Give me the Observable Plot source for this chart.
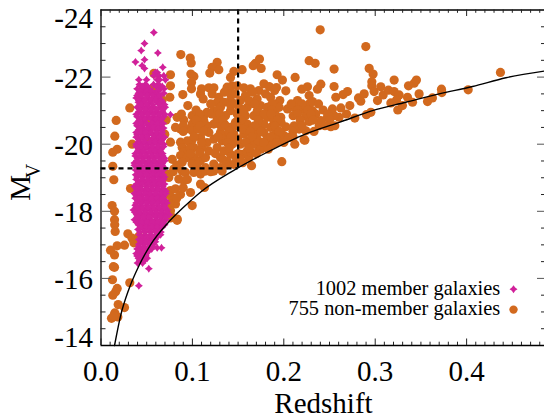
<!DOCTYPE html>
<html><head><meta charset="utf-8">
<style>html,body{margin:0;padding:0;background:#fff}svg{display:block}</style>
<script src="https://cdn.jsdelivr.net/npm/d3@7"></script>
<script src="https://cdn.jsdelivr.net/npm/@observablehq/plot@0.6"></script>
</head><body><div id="chart"></div>
<script>
const xMajor=[0,.1,.2,.3,.4];
const xMinor=[.01,.02,.03,.04,.05,.06,.07,.08,.09,.11,.12,.13,.14,.15,.16,.17,.18,.19,.21,.22,.23,.24,.25,.26,.27,.28,.29,.31,.32,.33,.34,.35,.36,.37,.38,.39,.41,.42,.43,.44,.45,.46,.47,.48];
const yLabels=[-22,-20,-18,-16];
const yMajor=[-22,-20,-18,-16];
const yMinor=[-23.5,-23,-22.5,-21.5,-21,-20.5,-19.5,-19,-18.5,-17.5,-17,-16.5,-15.5,-15,-14.5];
const limitZ=[.0148,.0213,.0304,.0414,.0542,.0724,.0888,.1088,.1453,.1818,.2241,.2606,.297,.3335,.37,.4065,.443,.485];
const limitM=[-14,-14.87,-15.67,-16.37,-17,-17.63,-18.08,-18.57,-19.22,-19.76,-20.31,-20.65,-21,-21.25,-21.5,-21.72,-21.98,-22.18];
const nonMembers=[
[.0166,-20.71],[.0151,-20.24],[.0177,-19.85],[.0129,-19.76],[.0341,-20],[.0315,-21.08],[.0129,-19.34],[.014,-18.94],[.0323,-18.68],[.0396,-18.58],[.0122,-18.17],[.0148,-18],[.0148,-17.75],[.015,-17.6],[.0155,-17.4],[.0294,-17.33],[.034,-17.2],[.0377,-17.16],[.036,-17.06],[.0414,-17.25],[.0257,-16.99],[.0177,-16.97],[.0104,-16.84],[.0148,-16.7],[.0148,-16.33],[.0135,-16.35],[.0126,-15.96],[.0315,-15.87],[.0177,-15.7],[.016,-15.6],[.0129,-15.5],[.0188,-15.22],[.0257,-15.13],[.0151,-14.97],[.0184,-14.85],[.0115,-14.81],[.014,-14.89],
[.0578,-22.11],[.076,-22.07],[.076,-21.74],[.056,-21.65],[.0669,-21.32],[.0753,-21.4],[.0713,-20.72],[.0698,-20.3],[.076,-20.06],[.054,-20.7],[.051,-20.1],[.0607,-17.5],[.0476,-16.68],
[.0873,-22.67],[.0976,-22.57],[.0987,-22.42],[.0983,-22.09],[.1016,-22.02],[.099,-21.84],[.099,-21.65],[.0895,-21.48],[.095,-21.15],[.1271,-22.44],[.1216,-22.29],[.1289,-22.22],[.119,-22.12],[.1453,-22.17],[.1544,-22.22],[.1417,-21.99],[.169,-22.41],[.1665,-22.34],[.1734,-22.54],[.1752,-22.26],
[.11,-21.65],[.118,-21.68],[.1235,-21.68],[.1089,-21.5],[.1118,-21.35],[.1216,-21.5],[.1289,-21.4],[.1271,-21.25],[.138,-21.7],[.1435,-21.74],[.149,-21.74],[.1563,-21.68],[.1417,-21.5],[.1635,-21.65],[.1727,-21.6],[.1782,-21.8],[.184,-21.72],[.18,-21.5],[.1708,-21.35],[.1855,-21.4],[.1417,-21.3],[.1526,-21.3],[.16,-21.1],[.1745,-21.15],[.1818,-21.1],[.135,-21.55],[.147,-21.5],[.158,-21.45],[.166,-21.55],[.135,-21.25],[.162,-21.3],[.19,-21.6],
[.0833,-20.8],[.0906,-20.72],[.0997,-20.85],[.0997,-20.6],[.087,-20.45],[.0815,-20.5],[.0924,-20.45],[.0997,-20.4],[.1125,-20.85],[.116,-20.95],[.1234,-21],[.1307,-21.1],[.1089,-20.2],[.0997,-20.12],[.087,-20.06],[.0888,-19.9],[.0906,-19.76],[.087,-19.66],[.0943,-19.6],[.1016,-19.9],[.1016,-19.6],[.0888,-19.46],[.0997,-19.41],[.1089,-19.51],[.1143,-19.6],[.118,-19.8],[.1161,-20.05],[.1234,-20.15],[.1107,-19.9],[.1234,-19.41],[.1307,-19.6],[.1271,-19.9],[.1325,-20.1],[.138,-20.3],[.1307,-20.35],[.1417,-20.5],[.1234,-20.6],[.1161,-20.55],[.1125,-20.7],[.118,-20.35],[.1271,-20.75],[.1362,-20.85],[.1417,-21],[.149,-20.9],[.1526,-20.6],[.1453,-20.3],[.1563,-20.3],[.16,-20.6],[.1672,-20.85],[.1654,-20.5],[.1745,-20.6],[.1818,-20.8],[.1855,-20.5],[.1708,-20.3],[.1818,-20.2],[.1617,-20.1],[.1526,-20],[.1435,-20],[.1417,-19.7],[.1344,-19.8],[.1453,-19.4],[.138,-19.5],[.1307,-19.3],[.1143,-19.3],[.1052,-19.26],[.0888,-19.2],[.0797,-19.26],[.0724,-19.1],[.0687,-19],[.1544,-19.7],[.1617,-19.6],[.1727,-19.9],[.1818,-20],[.1672,-20],[.16,-19.8],[.1781,-20.35],
[.135,-20.6],[.147,-20.65],[.133,-20.15],[.1495,-20.15],[.175,-20.85],[.158,-20.85],[.171,-21.0],[.151,-21.1],[.142,-21.15],[.189,-20.7],[.155,-19.45],[.1475,-19.62],[.1645,-19.75],[.172,-20.1],[.188,-20.25],[.178,-20.6],[.171,-20.55],[.16,-20.4],[.183,-20.95],[.105,-20.75],[.106,-20.45],[.108,-19.75],[.0945,-20.1],[.121,-20.9],[.131,-20.55],[.155,-20.45],
[.0687,-19.11],[.0742,-19.01],[.0851,-18.96],[.0906,-18.91],[.0924,-19.16],[.1015,-19.16],[.1089,-19.11],[.1143,-19.2],[.1234,-19.2],[.1325,-19.2],[.1089,-18.81],[.1132,-18.71],[.076,-18.62],[.0815,-18.67],[.087,-18.5],[.0779,-18.41],[.0979,-18.56],[.0815,-18.22],[.0742,-18.22],[.0998,-18.17],[.0779,-17.82],[.0706,-18.17],[.076,-18.02],[.0834,-17.77],[.0833,-17.73],[.076,-17.8],[.0945,-18.95],[.083,-18.4],[.072,-18.5],
[.2398,-23.41],[.2897,-22.91],[.2277,-22.49],[.2343,-22.41],[.255,-22.24],[.2934,-22.26],[.2977,-22.09],[.1927,-22.07],[.1985,-21.91],[.2124,-21.99],[.192,-21.69],[.2022,-21.59],[.2197,-21.64],[.2259,-21.71],[.2405,-21.79],[.2368,-21.64],[.2277,-21.45],[.255,-21.72],[.2569,-21.4],[.2697,-21.57],[.2649,-21.48],[.2817,-21.38],[.2842,-21.28],[.2879,-21.5],[.2963,-21.86],[.2963,-21.74],[.2988,-21.57],[.3061,-21.71],[.3025,-21.3],[.3087,-21.47],[.3145,-21.61],[.3207,-21.91],[.3207,-21.57],[.3262,-21.47],[.3233,-21.32],[.3171,-21.23],[.3247,-21.02],[.3298,-21.15],[.3353,-21.4],[.3364,-21.74],[.3426,-21.82],[.3451,-21.91],[.348,-21.5],[.3408,-21.25],[.3572,-21.27],[.3626,-21.38],[.3725,-21.64],[.3729,-21.54],[.4017,-21.62],[.437,-22.14],[.2722,-21.15],[.2686,-20.9],[.2624,-21.08],[.2777,-20.78],[.2904,-20.88],[.2952,-20.95],[.2277,-21.2],[.2314,-21.27],[.215,-21.3],[.1956,-21.3],[.1894,-21.2],
[.204,-21.05],[.2113,-21.1],[.2204,-21.05],[.2314,-21],[.2102,-20.85],[.2241,-20.85],[.235,-20.9],[.2532,-21.05],[.2478,-20.8],[.2605,-20.8],[.2551,-20.85],[.2405,-20.7],[.2277,-20.68],[.2514,-20.52],[.2558,-20.55],[.2387,-20.55],[.2113,-20.55],[.2168,-20.45],[.2241,-20.4],[.2022,-20.52],[.2058,-20.2],[.212,-20],[.2222,-20.13],[.1978,-19.48],[.1876,-20],[.1931,-20.2],[.1912,-20.45],[.1967,-20.8],[.1905,-20.9],[.1949,-21.1],[.2004,-20.25],[.1647,-19.36],[.223,-20.12],[.2051,-20.2],[.175,-19.85],[.178,-20.05],[.197,-20.65],[.183,-19.85],[.2,-20.05],[.197,-20.35]
];
const nonMemberRows=[
[-21.2,[.12,.147,.168,.187,.208,.22,.238]],
[-21.02,[.104,.128,.156,.187,.215,.226,.243]],
[-20.9,[.088,.108,.13,.155,.178,.186,.215,.23,.248]],
[-20.72,[.104,.133,.153,.172,.193,.218,.232,.25]],
[-20.55,[.09,.108,.136,.148,.168,.19,.22,.245]],
[-20.38,[.09,.112,.14,.163,.175,.195,.21,.233]],
[-20.22,[.102,.128,.142,.165,.186,.21]],
[-20.05,[.11,.138,.158,.178,.192]],
[-19.88,[.097,.14,.162]],
[-19.72,[.098,.125,.15,.17]],
[-19.55,[.078,.133,.152]],
[-19.38,[.083,.105,.137]],
[-19.18,[.079,.12]],
[-18.7,[.09]]
];
const memberRows=[
[-23.33,[.0578]],[-23,[.0476]],[-22.79,[.044]],[-22.72,[.0622]],[-22.52,[.0476]],[-22.45,[.0377]],[-22.34,[.045]],[-22.29,[.0676]],[-22.26,[.0476]],
[-22.14,[.0615,.0595]],[-22.04,[.0578,.0635,.0687]],[-21.92,[.0414,.0498,.0615,.064,.0705]],
[-21.78,[.042,.0485,.0575,.063]],[-21.65,[.0395,.0465,.0525,.0651,.069]],[-21.52,[.041,.0475,.053,.0595,.0687]],[-21.38,[.0385,.0445,.0515,.0575,.0635]],[-21.25,[.041,.047,.0535,.0615,.0672]],[-21.1,[.0395,.046,.052,.058,.0645,.0702]],[-20.96,[.0415,.0475,.0545,.0605,.067]],[-20.88,[.076]],
[-20.82,[.0395,.0455,.0515,.0575,.0635,.0685]],[-20.68,[.041,.047,.0585,.0645]],[-20.55,[.0395,.0455,.053,.059,.065]],[-20.42,[.041,.0475,.0535,.0605,.0665]],[-20.28,[.0395,.0455,.052,.058,.064]],[-20.14,[.0415,.0475,.0555,.0615,.067]],[-20,[.0385,.0445,.0505,.0565,.0625,.0685]],[-19.86,[.041,.047,.053,.0595,.0655]],[-19.72,[.0375,.0435,.05,.056,.062,.0675]],[-19.58,[.04,.046,.0525,.0585,.0645,.0695]],[-19.44,[.0365,.0425,.049,.055,.061,.067]],[-19.3,[.0395,.0455,.052,.058,.064,.069]],
[-19.16,[.041,.047,.0535,.0595,.0655]],[-19.02,[.0395,.0455,.052,.058,.064,.0695]],[-18.88,[.0415,.048,.054,.06,.0665]],[-18.74,[.0365,.043,.0495,.0555,.0615,.0675]],[-18.6,[.041,.047,.0535,.0595,.0655,.071]],[-18.46,[.0385,.0445,.051,.057,.063,.0685]],[-18.32,[.0405,.0465,.053,.059,.065,.0705]],[-18.18,[.0375,.0435,.05,.056,.062,.068]],[-18.04,[.0355,.0415,.048,.054,.06,.066,.0725]],[-17.9,[.039,.045,.051,.057,.0635,.069,.0745]],[-17.75,[.0366,.0425,.0485,.0545,.0605,.0665,.071]],[-17.6,[.041,.047,.053,.059,.065,.0695]],[-17.46,[.0405,.0465,.0525,.0585,.0635]],[-17.3,[.042,.048,.054,.06,.0651]],[-17.16,[.0415,.047,.0535,.059]],[-17.02,[.0415,.047,.0525,.0575]],[-16.91,[.0662,.0615]],[-16.88,[.0395,.045,.051,.0555]],[-16.74,[.0385,.044,.0495]],[-16.6,[.041,.047,.0505]],[-16.46,[.04,.0455]],[-16.29,[.0523]],[-15.78,[.0414]],
[-21.72,[.045,.051,.0605,.067]],[-21.58,[.043,.05,.056,.0625]],[-21.45,[.0395,.044,.0505,.0565,.0625,.0645]],[-21.31,[.0415,.048,.055,.0595,.066]],[-21.18,[.044,.05,.0565,.064,.0695]],[-21.03,[.0425,.049,.055,.061,.0675]],[-20.89,[.0385,.0445,.051,.0575,.0635,.07]],[-20.75,[.0425,.0485,.0545,.0605,.0665]],[-20.62,[.0385,.044,.05,.056,.062,.068]],[-20.48,[.0425,.0505,.0565,.0625,.0685]],[-20.35,[.0385,.044,.049,.055,.061,.067]],[-20.21,[.0385,.0445,.0505,.0585,.0645,.0695]],[-20.07,[.0415,.0475,.0535,.0595,.0655]],[-19.93,[.0385,.044,.05,.056,.0625,.0685]],[-19.79,[.0405,.0465,.0535,.059,.065]],[-19.65,[.0375,.043,.049,.0555,.0615,.0675]],[-19.51,[.0395,.0455,.052,.058,.0645,.07]],[-19.37,[.0365,.0425,.049,.055,.061,.067]],[-19.23,[.038,.044,.0505,.0565,.0625,.068]],[-19.09,[.038,.0435,.05,.0565,.0625,.068]],[-18.95,[.0385,.045,.051,.057,.063,.0685]],[-18.81,[.039,.045,.0515,.0575,.0635,.0695]],[-18.67,[.0385,.044,.0505,.0565,.0625,.0685]],[-18.53,[.0365,.0425,.0485,.054,.06,.066,.071]],[-18.39,[.0375,.043,.0495,.0555,.0615,.0675]],[-18.25,[.0385,.0445,.0505,.0565,.0625,.0685,.072]],[-18.11,[.0395,.0455,.0515,.0575,.0635,.07]],[-17.97,[.037,.0425,.0485,.0545,.0605,.0665,.072]],[-17.83,[.0405,.0465,.0525,.0595,.065,.071]],[-17.68,[.0385,.0445,.0505,.0565,.0625,.068]],[-17.53,[.0435,.0495,.0555,.0615,.067]],[-17.38,[.0425,.0485,.0545,.0605,.0655]],[-17.23,[.044,.05,.0565,.0615]],[-17.09,[.0435,.0495,.055,.0595]],[-16.95,[.0415,.047,.053,.0565]],[-16.81,[.0415,.0465,.052]],[-16.67,[.0395,.0445,.049]],[-16.53,[.0425,.0475]]
];
const colors={member:"#d1219a",non:"#d2691e"};
const serif="Liberation Serif";
const fourStar={draw(c,size){const R=Math.sqrt(size/Math.PI),a=R*.42;c.moveTo(0,-R);c.lineTo(a,-a);c.lineTo(R,0);c.lineTo(a,a);c.lineTo(0,R);c.lineTo(-a,a);c.lineTo(-R,0);c.lineTo(-a,-a);c.closePath();}};
const members=memberRows.flatMap(([m,zs])=>zs.map(z=>[z,m]));
const allNon=nonMembers.concat(nonMemberRows.flatMap(([m,zs])=>zs.map(z=>[z,m])));
const w=443.5,h=335.5;
const chart=Plot.plot({
 width:544,height:419,marginLeft:100.5,marginRight:0,marginTop:9.5,marginBottom:74,
 style:{background:"#fff",fontFamily:serif},
 x:{domain:[0,.4852],axis:null},y:{domain:[-14,-24],axis:null},
 marks:[
  Plot.dot(allNon,{x:d=>d[0],y:d=>d[1],r:4.6,fill:colors.non}),
  Plot.dot(members,{x:d=>d[0],y:d=>d[1],r:4,fill:colors.member,symbol:fourStar}),
  Plot.line(limitZ.map((z,i)=>[z,limitM[i]]),{x:d=>d[0],y:d=>d[1],stroke:"#000",strokeWidth:1.4,curve:"monotone-x"}),
  Plot.ruleX([.15],{y1:-24,y2:-19.28,stroke:"#000",strokeWidth:2.2,strokeDasharray:"5,4"}),
  Plot.ruleY([-19.28],{x1:0,x2:.15,stroke:"#000",strokeWidth:2.2,strokeDasharray:"5,4"}),
  Plot.ruleY([-24,-14],{stroke:"#000",strokeWidth:1.3}),
  Plot.ruleX([0],{stroke:"#000",strokeWidth:1.3}),
  Plot.tickX(xMinor,{x:d=>d,insetTop:h-3.3,stroke:"#222"}),
  Plot.tickX(xMinor,{x:d=>d,insetBottom:h-3.3,stroke:"#222"}),
  Plot.tickX(xMajor,{x:d=>d,insetTop:h-6.5,stroke:"#222"}),
  Plot.tickX(xMajor,{x:d=>d,insetBottom:h-6.5,stroke:"#222"}),
  Plot.tickY(yMinor,{y:d=>d,insetRight:w-5,stroke:"#222"}),
  Plot.tickY(yMinor,{y:d=>d,insetLeft:w-3,stroke:"#222"}),
  Plot.tickY(yMajor,{y:d=>d,insetRight:w-10,stroke:"#555"}),
  Plot.tickY(yMajor,{y:d=>d,insetLeft:w-7,stroke:"#555"}),
  Plot.axisX(xMajor,{tickSize:0,tickPadding:15,fontSize:29,fontFamily:serif,fill:"#000",label:null,tickFormat:d=>d.toFixed(1)}),
  Plot.axisY(yLabels,{tickSize:0,tickPadding:8,fontSize:29,fontFamily:serif,fill:"#000",label:null,tickFormat:d=>String(d),dy:1.5}),
  Plot.axisY([-24],{tickSize:0,tickPadding:8,fontSize:29,fontFamily:serif,fill:"#000",label:null,tickFormat:d=>String(d),dy:8.5}),
  Plot.axisY([-14],{tickSize:0,tickPadding:8,fontSize:29,fontFamily:serif,fill:"#000",label:null,tickFormat:d=>String(d),dy:-8}),
  Plot.text(["Redshift"],{x:[.2434],frameAnchor:"bottom",lineAnchor:"bottom",dy:67,fontSize:29,fontFamily:serif,fill:"#000"}),
  Plot.text(["M"],{y:[-18.7],frameAnchor:"left",textAnchor:"middle",dx:-80,rotate:-90,fontSize:29,fontFamily:serif,fill:"#000"}),
  Plot.text(["V"],{y:[-19.2],frameAnchor:"left",textAnchor:"middle",dx:-67,rotate:-90,fontSize:20,fontFamily:serif,fill:"#000"}),
  Plot.text(["1002 member galaxies"],{x:[.4368],y:[-15.7],textAnchor:"end",fontSize:20.4,fontFamily:serif,fill:"#000"}),
  Plot.text(["755 non-member galaxies"],{x:[.4368],y:[-15.1],textAnchor:"end",fontSize:20.4,fontFamily:serif,fill:"#000"}),
  Plot.dot([[.4513,-15.68]],{x:d=>d[0],y:d=>d[1],r:4,fill:colors.member,symbol:fourStar}),
  Plot.dot([[.4513,-15.07]],{x:d=>d[0],y:d=>d[1],r:4.2,fill:colors.non})
 ]
});
document.getElementById("chart").append(chart);
</script></body></html>
